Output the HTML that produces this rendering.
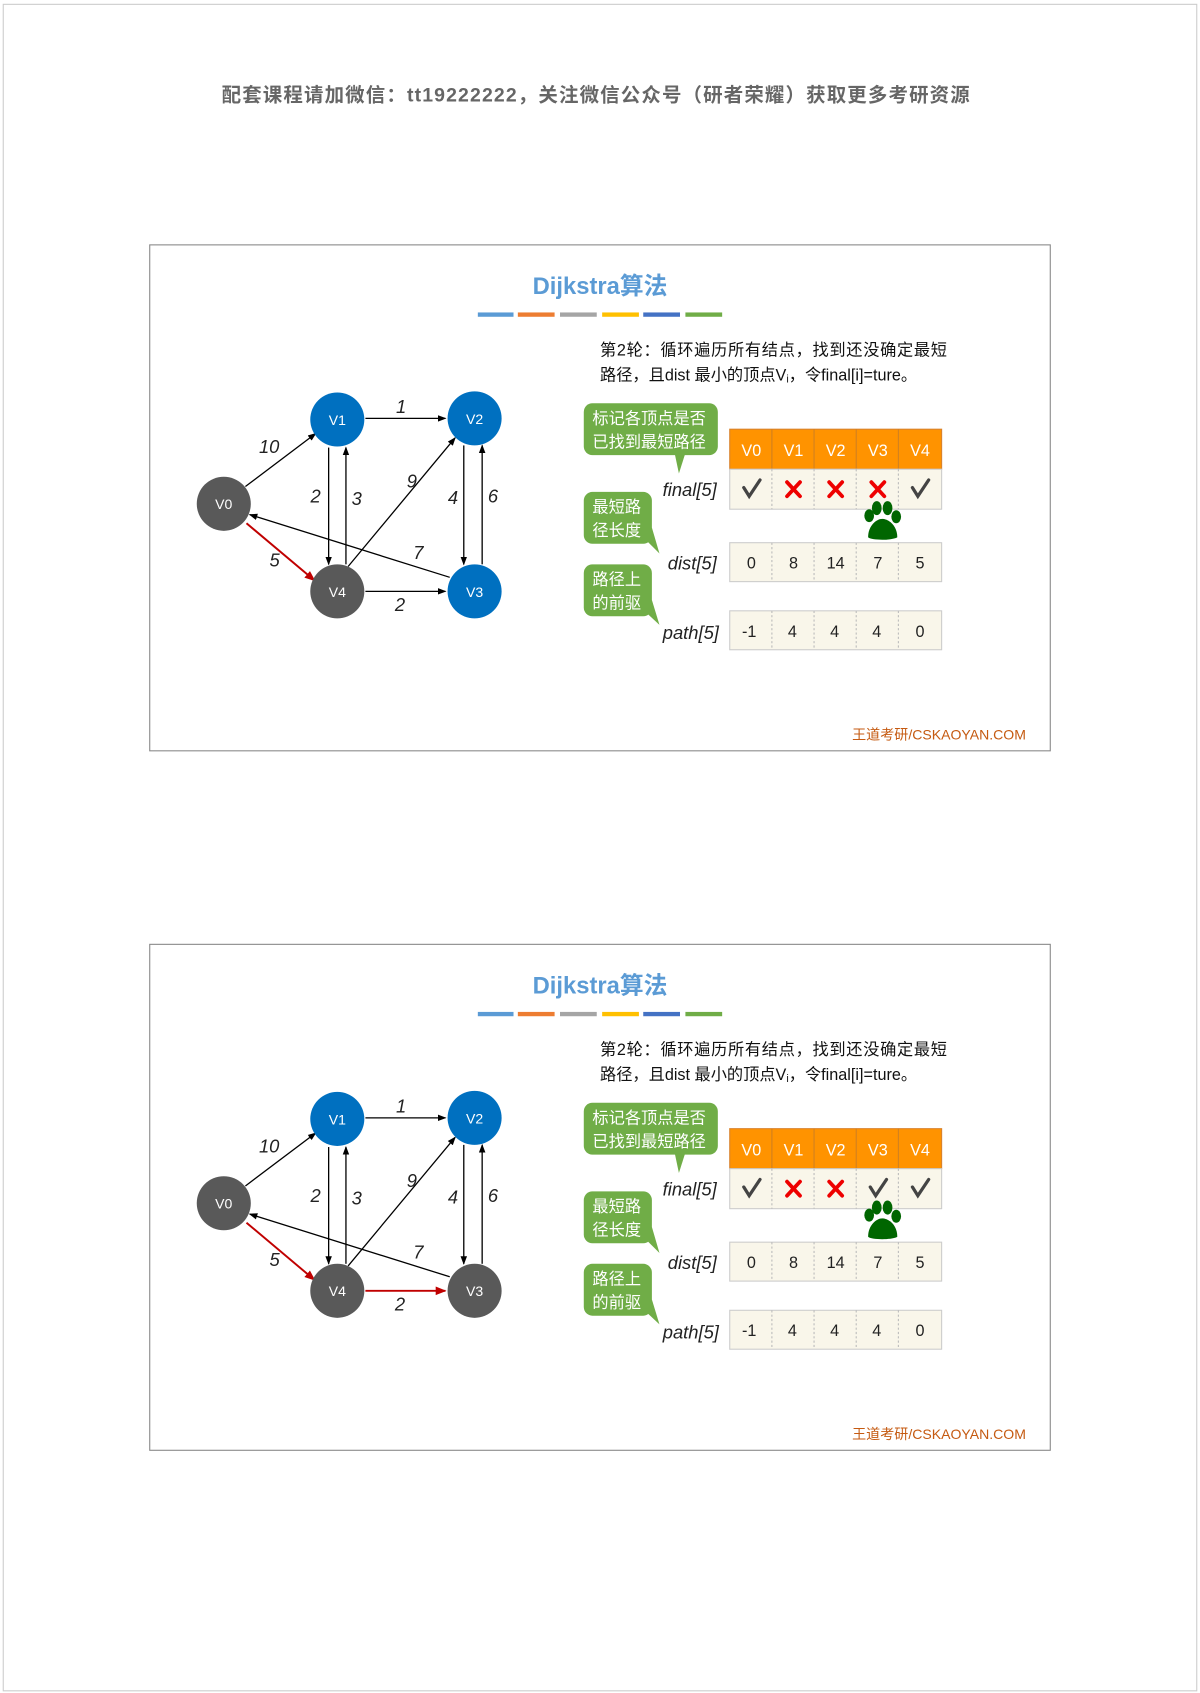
<!DOCTYPE html>
<html><head><meta charset="utf-8"><style>
html,body{margin:0;padding:0;background:#fff;}
svg{display:block;}
text{font-family:"Liberation Sans","Noto Sans CJK SC",sans-serif;}
</style></head><body>
<svg width="1200" height="1693" viewBox="0 0 1110 1566" xmlns="http://www.w3.org/2000/svg">
<defs>
<marker id="ab" markerWidth="8" markerHeight="8" refX="7" refY="4" orient="auto" markerUnits="userSpaceOnUse"><path d="M0,1 L8,4 L0,7 z" fill="#000"/></marker>
<marker id="ar" markerWidth="10" markerHeight="10" refX="9" refY="5" orient="auto" markerUnits="userSpaceOnUse"><path d="M0,1 L10,5 L0,9 z" fill="#c00000"/></marker>
</defs>
<rect x="3" y="4" width="1104" height="1560" fill="#fff" stroke="#ccc" stroke-width="1"/>
<text x="205" y="94" font-size="18" font-weight="bold" fill="#666" textLength="692">配套课程请加微信：tt19222222，关注微信公众号（研者荣耀）获取更多考研资源</text>

<!-- SLIDE 1 -->
<g>
<rect x="138.5" y="226.5" width="833" height="468" fill="#fff" stroke="#888" stroke-width="1"/>
<text x="555" y="272" text-anchor="middle" font-size="22" font-weight="bold" fill="#5b9bd5">Dijkstra算法</text>
<rect x="442" y="289" width="33" height="4" fill="#5b9bd5"/><rect x="479" y="289" width="34" height="4" fill="#ed7d31"/><rect x="518" y="289" width="34" height="4" fill="#a5a5a5"/><rect x="557" y="289" width="34" height="4" fill="#ffc000"/><rect x="595" y="289" width="34" height="4" fill="#4472c4"/><rect x="634" y="289" width="34" height="4" fill="#70ad47"/>
<text x="555" y="329" font-size="15" fill="#111" textLength="321">第2轮：循环遍历所有结点，找到还没确定最短</text>
<text x="555" y="352" font-size="15" fill="#111">路径，且dist 最小的顶点V<tspan font-size="10" dy="2">i</tspan><tspan dy="-2">，令final[i]=ture。</tspan></text>
<g stroke="#000" stroke-width="1.2" fill="none">
<line x1="338" y1="387" x2="412" y2="387" marker-end="url(#ab)"/>
<line x1="227" y1="450" x2="292" y2="401" marker-end="url(#ab)"/>
<line x1="304" y1="414" x2="304" y2="522" marker-end="url(#ab)"/>
<line x1="320" y1="522" x2="320" y2="414" marker-end="url(#ab)"/>
<line x1="322" y1="524" x2="421" y2="405" marker-end="url(#ab)"/>
<line x1="429" y1="412" x2="429" y2="522" marker-end="url(#ab)"/>
<line x1="446" y1="522" x2="446" y2="412" marker-end="url(#ab)"/>
<line x1="416" y1="534" x2="231" y2="476" marker-end="url(#ab)"/>
<line x1="338" y1="547" x2="412" y2="547" marker-end="url(#ab)"/>
</g>
<line x1="228" y1="484" x2="291" y2="537" stroke="#c00000" stroke-width="1.8" marker-end="url(#ar)"/>
<g font-size="17" font-style="italic" fill="#222" text-anchor="middle">
<text x="371" y="382">1</text><text x="249" y="419">10</text><text x="292" y="465">2</text><text x="330" y="467">3</text><text x="381" y="451">9</text><text x="419" y="466">4</text><text x="456" y="465">6</text><text x="387" y="517">7</text><text x="254" y="524">5</text><text x="370" y="565">2</text>
</g>
<circle cx="312" cy="388" r="25" fill="#0070c0"/><circle cx="439" cy="387" r="25" fill="#0070c0"/><circle cx="207" cy="466" r="25" fill="#595959"/><circle cx="312" cy="547" r="25" fill="#595959"/><circle cx="439" cy="547" r="25" fill="#0070c0"/>
<g font-size="13" fill="#fff" text-anchor="middle"><text x="312" y="393">V1</text><text x="439" y="392">V2</text><text x="207" y="471">V0</text><text x="312" y="552">V4</text><text x="439" y="552">V3</text></g>
<g fill="#70ad47">
<rect x="540" y="373" width="124" height="48" rx="8"/><path d="M624,419 L628,438 L634,419 z"/>
<rect x="540" y="455" width="63" height="48" rx="8"/><path d="M596,498 L610,512 L603,488 z"/>
<rect x="540" y="522" width="63" height="48" rx="8"/><path d="M596,565 L610,578 L603,555 z"/>
</g>
<g font-size="15" fill="#fff"><text x="548" y="392">标记各顶点是否</text><text x="548" y="414">已找到最短路径</text><text x="548" y="474">最短路</text><text x="548" y="496">径长度</text><text x="548" y="541">路径上</text><text x="548" y="563">的前驱</text></g>
<g font-size="17" font-style="italic" fill="#222" text-anchor="end"><text x="663" y="459">final[5]</text><text x="663" y="527">dist[5]</text><text x="665" y="591">path[5]</text></g>
<rect x="675" y="397" width="196" height="37" fill="#ff9300" stroke="#d9822b"/>
<g stroke="#d08020"><line x1="714" y1="397" x2="714" y2="434"/><line x1="753" y1="397" x2="753" y2="434"/><line x1="792" y1="397" x2="792" y2="434"/><line x1="831" y1="397" x2="831" y2="434"/></g>
<g font-size="15" fill="#fff" text-anchor="middle"><text x="695" y="422">V0</text><text x="734" y="422">V1</text><text x="773" y="422">V2</text><text x="812" y="422">V3</text><text x="851" y="422">V4</text></g>
<rect x="675" y="434" width="196" height="37" fill="#f9f6ea" stroke="#ccc"/>
<rect x="675" y="502" width="196" height="36" fill="#f9f6ea" stroke="#ccc"/>
<rect x="675" y="565" width="196" height="36" fill="#f9f6ea" stroke="#ccc"/>
<g stroke="#bbb" stroke-dasharray="2,2"><line x1="714" y1="434" x2="714" y2="471"/><line x1="753" y1="434" x2="753" y2="471"/><line x1="792" y1="434" x2="792" y2="471"/><line x1="831" y1="434" x2="831" y2="471"/><line x1="714" y1="502" x2="714" y2="538"/><line x1="753" y1="502" x2="753" y2="538"/><line x1="792" y1="502" x2="792" y2="538"/><line x1="831" y1="502" x2="831" y2="538"/><line x1="714" y1="565" x2="714" y2="601"/><line x1="753" y1="565" x2="753" y2="601"/><line x1="792" y1="565" x2="792" y2="601"/><line x1="831" y1="565" x2="831" y2="601"/></g>
<g stroke="#444" stroke-width="3" fill="none" stroke-linecap="round"><path d="M688,451 L693,459 L703,444"/><path d="M844,451 L849,459 L859,444"/></g>
<g stroke="#e00" stroke-width="3.5" stroke-linecap="round"><path d="M728,446 L740,459 M740,446 L728,459"/><path d="M767,446 L779,459 M779,446 L767,459"/><path d="M806,446 L818,459 M818,446 L806,459"/></g>
<g fill="#006600"><ellipse cx="804" cy="477" rx="4.5" ry="6"/><ellipse cx="811" cy="470" rx="4.5" ry="6.5"/><ellipse cx="821" cy="470" rx="4.5" ry="6.5"/><ellipse cx="829" cy="478" rx="4.5" ry="6"/><path d="M803,497 C803,486 811,480 816,480 C822,480 830,486 830,497 C826,500 806,500 803,497 z"/></g>
<g font-size="15" fill="#222" text-anchor="middle"><text x="695" y="526">0</text><text x="734" y="526">8</text><text x="773" y="526">14</text><text x="812" y="526">7</text><text x="851" y="526">5</text><text x="693" y="589">-1</text><text x="733" y="589">4</text><text x="772" y="589">4</text><text x="811" y="589">4</text><text x="851" y="589">0</text></g>
<text x="949" y="684" text-anchor="end" font-size="13" fill="#c55a11">王道考研/CSKAOYAN.COM</text>
</g>

<!-- SLIDE 2 -->
<g transform="translate(0,647)">
<rect x="138.5" y="226.5" width="833" height="468" fill="#fff" stroke="#888" stroke-width="1"/>
<text x="555" y="272" text-anchor="middle" font-size="22" font-weight="bold" fill="#5b9bd5">Dijkstra算法</text>
<rect x="442" y="289" width="33" height="4" fill="#5b9bd5"/><rect x="479" y="289" width="34" height="4" fill="#ed7d31"/><rect x="518" y="289" width="34" height="4" fill="#a5a5a5"/><rect x="557" y="289" width="34" height="4" fill="#ffc000"/><rect x="595" y="289" width="34" height="4" fill="#4472c4"/><rect x="634" y="289" width="34" height="4" fill="#70ad47"/>
<text x="555" y="329" font-size="15" fill="#111" textLength="321">第2轮：循环遍历所有结点，找到还没确定最短</text>
<text x="555" y="352" font-size="15" fill="#111">路径，且dist 最小的顶点V<tspan font-size="10" dy="2">i</tspan><tspan dy="-2">，令final[i]=ture。</tspan></text>
<g stroke="#000" stroke-width="1.2" fill="none">
<line x1="338" y1="387" x2="412" y2="387" marker-end="url(#ab)"/>
<line x1="227" y1="450" x2="292" y2="401" marker-end="url(#ab)"/>
<line x1="304" y1="414" x2="304" y2="522" marker-end="url(#ab)"/>
<line x1="320" y1="522" x2="320" y2="414" marker-end="url(#ab)"/>
<line x1="322" y1="524" x2="421" y2="405" marker-end="url(#ab)"/>
<line x1="429" y1="412" x2="429" y2="522" marker-end="url(#ab)"/>
<line x1="446" y1="522" x2="446" y2="412" marker-end="url(#ab)"/>
<line x1="416" y1="534" x2="231" y2="476" marker-end="url(#ab)"/>
</g>
<line x1="338" y1="547" x2="412" y2="547" stroke="#c00000" stroke-width="1.8" marker-end="url(#ar)"/>
<line x1="228" y1="484" x2="291" y2="537" stroke="#c00000" stroke-width="1.8" marker-end="url(#ar)"/>
<g font-size="17" font-style="italic" fill="#222" text-anchor="middle">
<text x="371" y="382">1</text><text x="249" y="419">10</text><text x="292" y="465">2</text><text x="330" y="467">3</text><text x="381" y="451">9</text><text x="419" y="466">4</text><text x="456" y="465">6</text><text x="387" y="517">7</text><text x="254" y="524">5</text><text x="370" y="565">2</text>
</g>
<circle cx="312" cy="388" r="25" fill="#0070c0"/><circle cx="439" cy="387" r="25" fill="#0070c0"/><circle cx="207" cy="466" r="25" fill="#595959"/><circle cx="312" cy="547" r="25" fill="#595959"/><circle cx="439" cy="547" r="25" fill="#595959"/>
<g font-size="13" fill="#fff" text-anchor="middle"><text x="312" y="393">V1</text><text x="439" y="392">V2</text><text x="207" y="471">V0</text><text x="312" y="552">V4</text><text x="439" y="552">V3</text></g>
<g fill="#70ad47">
<rect x="540" y="373" width="124" height="48" rx="8"/><path d="M624,419 L628,438 L634,419 z"/>
<rect x="540" y="455" width="63" height="48" rx="8"/><path d="M596,498 L610,512 L603,488 z"/>
<rect x="540" y="522" width="63" height="48" rx="8"/><path d="M596,565 L610,578 L603,555 z"/>
</g>
<g font-size="15" fill="#fff"><text x="548" y="392">标记各顶点是否</text><text x="548" y="414">已找到最短路径</text><text x="548" y="474">最短路</text><text x="548" y="496">径长度</text><text x="548" y="541">路径上</text><text x="548" y="563">的前驱</text></g>
<g font-size="17" font-style="italic" fill="#222" text-anchor="end"><text x="663" y="459">final[5]</text><text x="663" y="527">dist[5]</text><text x="665" y="591">path[5]</text></g>
<rect x="675" y="397" width="196" height="37" fill="#ff9300" stroke="#d9822b"/>
<g stroke="#d08020"><line x1="714" y1="397" x2="714" y2="434"/><line x1="753" y1="397" x2="753" y2="434"/><line x1="792" y1="397" x2="792" y2="434"/><line x1="831" y1="397" x2="831" y2="434"/></g>
<g font-size="15" fill="#fff" text-anchor="middle"><text x="695" y="422">V0</text><text x="734" y="422">V1</text><text x="773" y="422">V2</text><text x="812" y="422">V3</text><text x="851" y="422">V4</text></g>
<rect x="675" y="434" width="196" height="37" fill="#f9f6ea" stroke="#ccc"/>
<rect x="675" y="502" width="196" height="36" fill="#f9f6ea" stroke="#ccc"/>
<rect x="675" y="565" width="196" height="36" fill="#f9f6ea" stroke="#ccc"/>
<g stroke="#bbb" stroke-dasharray="2,2"><line x1="714" y1="434" x2="714" y2="471"/><line x1="753" y1="434" x2="753" y2="471"/><line x1="792" y1="434" x2="792" y2="471"/><line x1="831" y1="434" x2="831" y2="471"/><line x1="714" y1="502" x2="714" y2="538"/><line x1="753" y1="502" x2="753" y2="538"/><line x1="792" y1="502" x2="792" y2="538"/><line x1="831" y1="502" x2="831" y2="538"/><line x1="714" y1="565" x2="714" y2="601"/><line x1="753" y1="565" x2="753" y2="601"/><line x1="792" y1="565" x2="792" y2="601"/><line x1="831" y1="565" x2="831" y2="601"/></g>
<g stroke="#444" stroke-width="3" fill="none" stroke-linecap="round"><path d="M688,451 L693,459 L703,444"/><path d="M805,451 L810,459 L820,444"/><path d="M844,451 L849,459 L859,444"/></g>
<g stroke="#e00" stroke-width="3.5" stroke-linecap="round"><path d="M728,446 L740,459 M740,446 L728,459"/><path d="M767,446 L779,459 M779,446 L767,459"/></g>
<g fill="#006600"><ellipse cx="804" cy="477" rx="4.5" ry="6"/><ellipse cx="811" cy="470" rx="4.5" ry="6.5"/><ellipse cx="821" cy="470" rx="4.5" ry="6.5"/><ellipse cx="829" cy="478" rx="4.5" ry="6"/><path d="M803,497 C803,486 811,480 816,480 C822,480 830,486 830,497 C826,500 806,500 803,497 z"/></g>
<g font-size="15" fill="#222" text-anchor="middle"><text x="695" y="526">0</text><text x="734" y="526">8</text><text x="773" y="526">14</text><text x="812" y="526">7</text><text x="851" y="526">5</text><text x="693" y="589">-1</text><text x="733" y="589">4</text><text x="772" y="589">4</text><text x="811" y="589">4</text><text x="851" y="589">0</text></g>
<text x="949" y="684" text-anchor="end" font-size="13" fill="#c55a11">王道考研/CSKAOYAN.COM</text>
</g>
</svg>
</body></html>
